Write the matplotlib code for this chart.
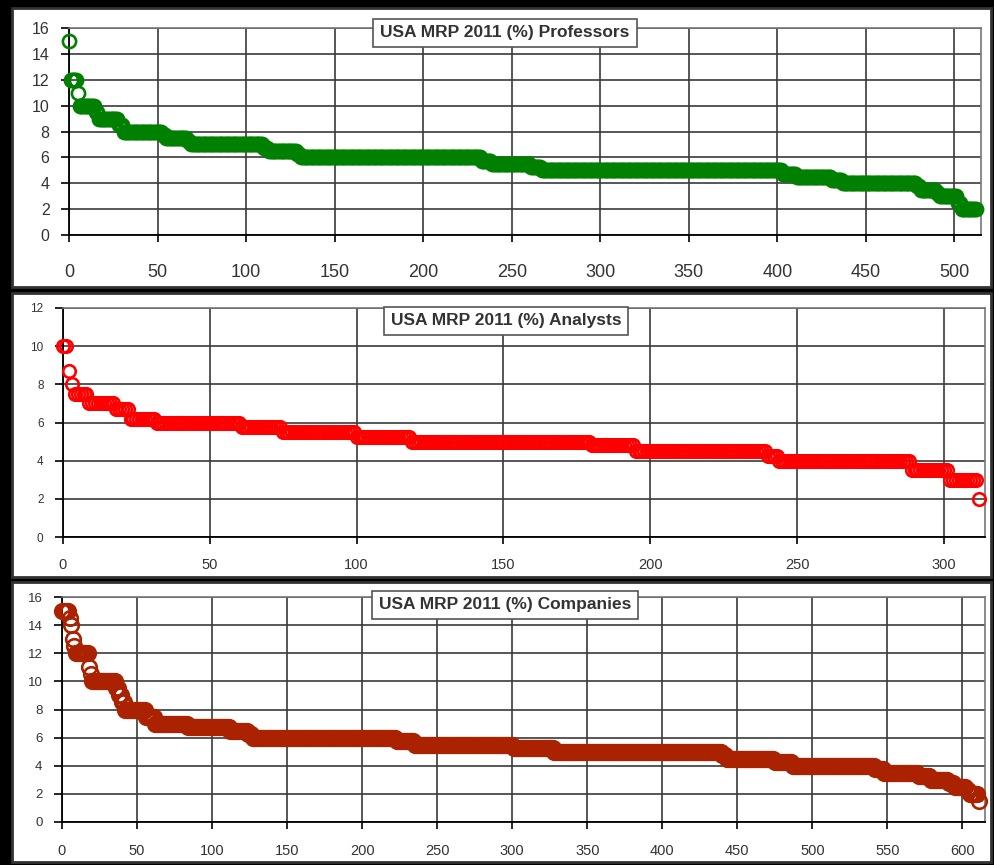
import matplotlib.pyplot as plt
import numpy as np
from matplotlib.patches import Rectangle

plt.rcParams['font.family'] = ['Liberation Sans', 'DejaVu Sans']

# sorted answers, written down as (value, how many times it repeats)
prof_levels = [15, 12, 11, 10, 9.5, 9, 8.5, 8, 7.75, 7.5, 7.25, 7, 6.75, 6.5, 6.25, 6,
               5.75, 5.5, 5.25, 5, 4.75, 4.5, 4.25, 4, 3.75, 3.5, 3.25, 3, 2.5, 2]
prof_counts = [1, 4, 1, 9, 2, 11, 3, 22, 2, 12, 2, 41, 3, 16, 2, 102,
               6, 22, 6, 136, 8, 20, 6, 42, 2, 9, 2, 10, 2, 9]

anal_levels = [10, 8.7, 8, 7.5, 7, 6.7, 6.2, 6, 5.75, 5.5, 5.25, 5, 4.8, 4.5, 4.25, 4, 3.5, 3, 2]
anal_counts = [2, 1, 1, 5, 9, 5, 9, 29, 14, 25, 19, 61, 15, 45, 4, 45, 13, 10, 1]

comp_levels = [15, 14.5, 14, 13, 12.5, 12, 11, 10.5, 10, 9.5, 9, 8.5, 8, 7.5, 7, 6.75, 6.5, 6.25, 6,
               5.75, 5.5, 5.25, 5, 4.75, 4.5, 4.25, 4, 3.75, 3.5, 3.25, 3, 2.75, 2.5, 2.25, 2, 1.5]
comp_counts = [5, 1, 1, 1, 1, 9, 1, 1, 16, 2, 2, 2, 14, 6, 22, 28, 12, 3, 96,
               12, 66, 27, 112, 3, 32, 12, 55, 6, 23, 8, 12, 4, 8, 2, 6, 1]

W, H = 995, 865
fig = plt.figure(figsize=(W / 100, H / 100), dpi=100)
fig.patch.set_facecolor('black')


def px(x0, y0, x1, y1):
    # pixel box (y from top) -> figure fraction
    return [x0 / W, 1 - y1 / H, (x1 - x0) / W, (y1 - y0) / H]


def panel(frame, area, levels, counts, color, ytop, xmax, xlast, title, tx, ty,
          fsx, fsy, xpad, ms):
    fig.add_artist(Rectangle(px(*frame)[:2], *px(*frame)[2:], transform=fig.transFigure,
                             facecolor='white', edgecolor='#333333', lw=2, zorder=0))
    ax = fig.add_axes(px(*area))
    vals = np.repeat(levels, counts)
    ax.plot(np.arange(len(vals)), vals, 'o', mfc='none', mec=color, ms=ms, mew=1.9,
            clip_on=False, zorder=3)
    ax.set_xlim(0, xmax)
    ax.set_ylim(0, ytop)
    ax.set_xticks(np.arange(0, xlast + 1, 50))
    ax.set_yticks(np.arange(0, ytop + 1, 2))
    ax.set_axisbelow(True)
    ax.grid(True, color='#3a3a3a', lw=1.2)
    for s in ['top', 'right']:
        ax.spines[s].set_color('#777777')
        ax.spines[s].set_linewidth(1.2)
    for s in ['left', 'bottom']:
        ax.spines[s].set_color('black')
        ax.spines[s].set_linewidth(1.3)
    ax.tick_params(axis='x', direction='out', length=5, width=1.2, pad=xpad,
                   labelsize=fsx, labelcolor='#333333')
    ax.tick_params(axis='y', direction='out', length=6, width=1.2, pad=8,
                   labelsize=fsy, labelcolor='#333333')
    fig.text(tx / W, 1 - ty / H, title, ha='center', va='center', fontsize=12.5,
             fontweight='bold', color='#333333',
             bbox=dict(facecolor='white', edgecolor='#555555', lw=1.2,
                       boxstyle='square,pad=0.4'))
    return ax


panel((12, 8, 991, 287), (69, 28, 981, 235), prof_levels, prof_counts, '#008000',
      16, 515, 500, 'USA MRP 2011 (%) Professors', 505, 33, 13, 11.5, 16, 9.5)
panel((12, 293, 991, 577), (63, 308, 985, 537), anal_levels, anal_counts, '#ff0000',
      12, 314, 300, 'USA MRP 2011 (%) Analysts', 506, 321, 10.5, 8.5, 10, 9)
panel((12, 582, 991, 862), (62, 597, 985, 822), comp_levels, comp_counts, '#aa2200',
      16, 615, 600, 'USA MRP 2011 (%) Companies', 505, 605, 10.5, 9.5, 11, 10.5)

fig.savefig('out.png', dpi=100, facecolor=fig.get_facecolor())
